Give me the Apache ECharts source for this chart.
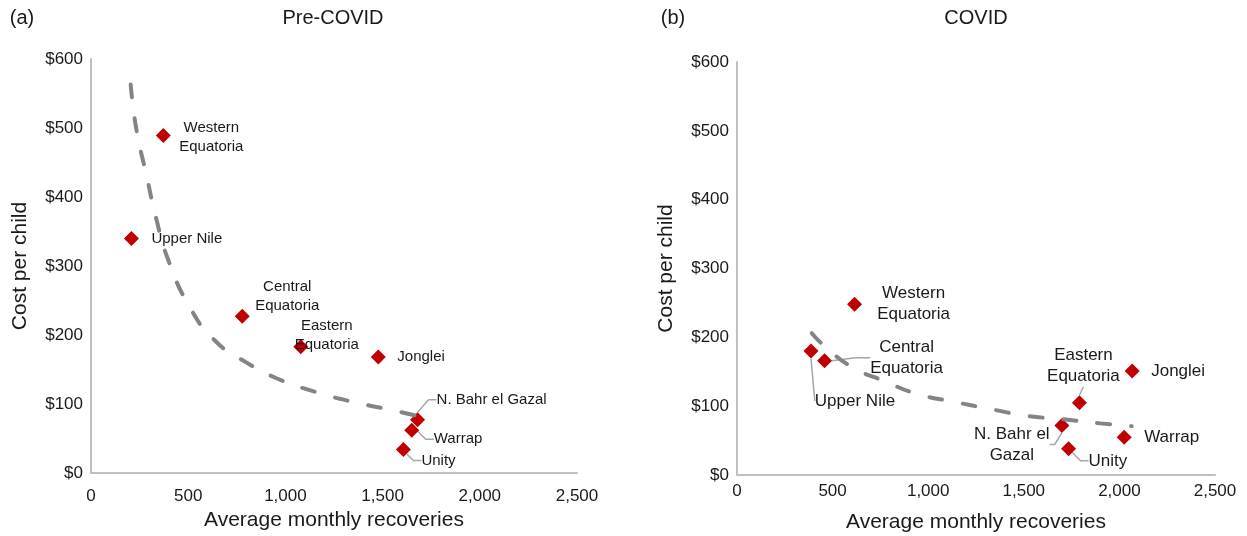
<!DOCTYPE html>
<html><head><meta charset="utf-8">
<script src="https://cdn.jsdelivr.net/npm/echarts@6/dist/echarts.min.js"></script>
<style>html,body{margin:0;padding:0;background:#fff}#c{width:1247px;height:536px}</style>
</head><body><div id="c"></div>
<script>
// ---- data ----
const regions = ['Western Equatoria','Upper Nile','Central Equatoria','Eastern Equatoria','Jonglei','N. Bahr el Gazal','Warrap','Unity'];
const preRecoveries = [372, 208, 778, 1079, 1478, 1680, 1650, 1607];
const preCost       = [489, 340, 227, 183, 168, 77, 62, 34];
const covidRecoveries = [615, 387, 458, 1791, 2067, 1699, 2025, 1734];
const covidCost       = [248, 180, 166, 105, 151, 72, 55, 38];
// trend lines
const preTrendX = [204, 234, 285, 336, 397, 509, 641, 794, 957, 1160, 1364, 1567, 1690];
const preTrendY = [563, 497, 432, 368, 309, 240, 191, 161, 137, 117, 102, 90, 82];
const covidTrendX = [391, 451, 600, 774, 940, 1140, 1323, 1515, 1705, 1899, 2064];
const covidTrendY = [206, 189, 157, 136, 118, 106, 96, 86, 81, 75, 71];
const xTickLabels = ['0','500','1,000','1,500','2,000','2,500'];
const yTickLabels = ['$0','$100','$200','$300','$400','$500','$600'];

// ---- label placement (style, not data) ----
const prePlace = {
  'Western Equatoria': {t:'Western\nEquatoria', a:'center', dx:48, dy:2},
  'Upper Nile': {t:'Upper Nile', a:'left', dx:20, dy:0},
  'Central Equatoria': {t:'Central\nEquatoria', a:'center', dx:45, dy:-20},
  'Eastern Equatoria': {t:'Eastern\nEquatoria', a:'center', dx:26, dy:-11},
  'Jonglei': {t:'Jonglei', a:'left', dx:19, dy:0},
  'N. Bahr el Gazal': {t:'N. Bahr el Gazal', a:'left', dx:19, dy:-20, line:8},
  'Warrap': {t:'Warrap', a:'left', dx:22, dy:9, line:8},
  'Unity': {t:'Unity', a:'left', dx:18, dy:11, line:8}
};
const covidPlace = {
  'Western Equatoria': {t:'Western\nEquatoria', a:'center', dx:59, dy:0},
  'Upper Nile': {t:'Upper Nile', a:'center', dx:44, dy:50, line:0},
  'Central Equatoria': {t:'Central\nEquatoria', a:'center', dx:82, dy:-3, line:15},
  'Eastern Equatoria': {t:'Eastern\nEquatoria', a:'center', dx:4, dy:-37, line:0},
  'Jonglei': {t:'Jonglei', a:'left', dx:19, dy:0},
  'N. Bahr el Gazal': {t:'N. Bahr el\nGazal', a:'center', dx:-50, dy:19, line:5},
  'Warrap': {t:'Warrap', a:'left', dx:20, dy:0},
  'Unity': {t:'Unity', a:'left', dx:20, dy:12, line:8}
};

const FONT = '"Liberation Sans", Arial, sans-serif';
const TXT = '#1a1a1a';
const RED = '#c00000';

function scatterData(xs, ys, place, fontSize, lh) {
  return regions.map((name, i) => {
    const p = place[name];
    const item = {
      name: name,
      value: [xs[i], ys[i]],
      label: {
        show: true, position: 'inside', formatter: p.t,
        offset: [p.dx, p.dy], align: p.a, verticalAlign: 'middle',
        color: TXT, fontSize: fontSize, lineHeight: lh, fontFamily: FONT
      }
    };
    if (p.line !== undefined) {
      item.labelLine = { show: true, length2: p.line, lineStyle: { color: '#a6a6a6', width: 1.5, opacity: 1 } };
    } else {
      item.labelLine = { show: false };
    }
    return item;
  });
}
function zip(a, b) { return a.map((v, i) => [v, b[i]]); }

function xAxisCfg(gridIndex, margin, nameGap) {
  return {
    type: 'value', gridIndex: gridIndex, min: 0, max: 2500, interval: 500,
    name: 'Average monthly recoveries', nameLocation: 'middle', nameGap: nameGap,
    nameTextStyle: { fontSize: 21, color: TXT, fontFamily: FONT },
    axisLine: { show: true, lineStyle: { color: '#c0c0c0', width: 2 } },
    axisTick: { show: false }, splitLine: { show: false },
    axisLabel: { margin: margin, fontSize: 17, color: TXT, fontFamily: FONT,
      formatter: v => xTickLabels[Math.round(v / 500)] }
  };
}
function yAxisCfg(gridIndex) {
  return {
    type: 'value', gridIndex: gridIndex, min: 0, max: 600, interval: 100,
    name: 'Cost per child', nameLocation: 'middle', nameGap: 60,
    nameTextStyle: { fontSize: 21, color: TXT, fontFamily: FONT },
    axisLine: { show: true, lineStyle: { color: '#c0c0c0', width: 2 } },
    axisTick: { show: false }, splitLine: { show: false },
    axisLabel: { margin: 8, fontSize: 17, color: TXT, fontFamily: FONT,
      formatter: v => yTickLabels[Math.round(v / 100)] }
  };
}
function trendSeries(idx, xs, ys) {
  return {
    type: 'line', xAxisIndex: idx, yAxisIndex: idx, data: zip(xs, ys),
    smooth: true, symbol: 'none', silent: true, z: 5,
    lineStyle: { color: '#848484', width: 4, type: [13, 21], cap: 'round', opacity: 1 }
  };
}

const chart = echarts.init(document.getElementById('c'), null, { renderer: 'canvas' });
chart.setOption({
  animation: false,
  backgroundColor: '#ffffff',
  textStyle: { fontFamily: FONT },
  grid: [
    { left: 91, top: 59, width: 486, height: 414, containLabel: false, outerBoundsMode: 'none' },
    { left: 737, top: 62, width: 478, height: 413, containLabel: false, outerBoundsMode: 'none' }
  ],
  xAxis: [ xAxisCfg(0, 15, 36), xAxisCfg(1, 8, 37) ],
  yAxis: [ yAxisCfg(0), yAxisCfg(1) ],
  graphic: [
    { type: 'text', x: 22, y: 18, style: { text: '(a)', font: '20px ' + FONT, fill: TXT, align: 'center', verticalAlign: 'middle' } },
    { type: 'text', x: 333, y: 18, style: { text: 'Pre-COVID', font: '20px ' + FONT, fill: TXT, align: 'center', verticalAlign: 'middle' } },
    { type: 'text', x: 673, y: 18, style: { text: '(b)', font: '20px ' + FONT, fill: TXT, align: 'center', verticalAlign: 'middle' } },
    { type: 'text', x: 976, y: 18, style: { text: 'COVID', font: '20px ' + FONT, fill: TXT, align: 'center', verticalAlign: 'middle' } }
  ],
  series: [
    { type: 'scatter', xAxisIndex: 0, yAxisIndex: 0, symbol: 'diamond', symbolSize: 15,
      itemStyle: { color: RED, opacity: 1 }, z: 2,
      data: scatterData(preRecoveries, preCost, prePlace, 15, 19) },
    { type: 'scatter', xAxisIndex: 1, yAxisIndex: 1, symbol: 'diamond', symbolSize: 15,
      itemStyle: { color: RED, opacity: 1 }, z: 2,
      data: scatterData(covidRecoveries, covidCost, covidPlace, 17, 21) },
    trendSeries(0, preTrendX, preTrendY),
    trendSeries(1, covidTrendX, covidTrendY)
  ]
});
</script></body></html>
